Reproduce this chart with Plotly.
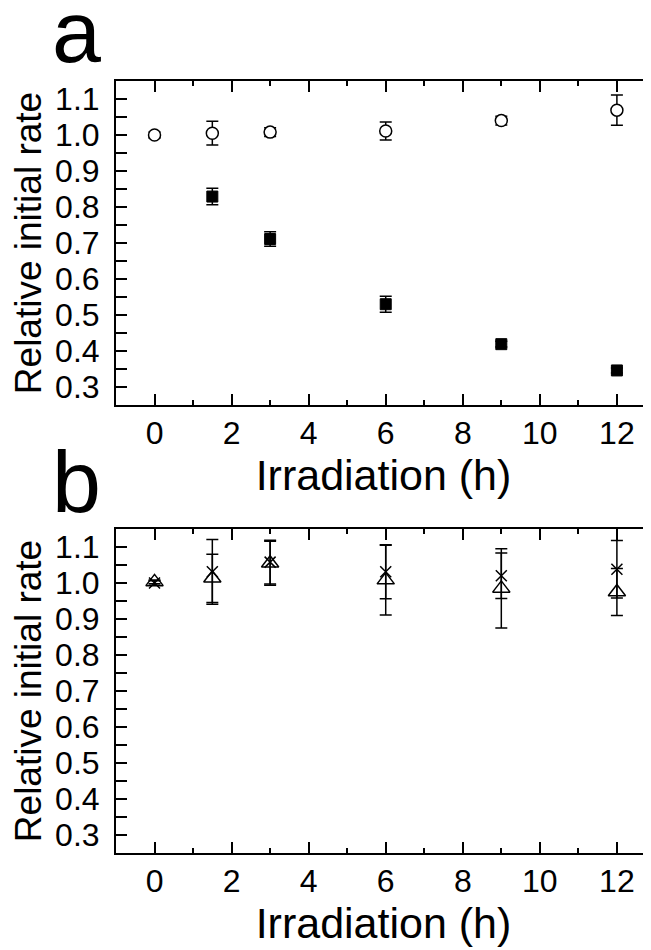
import plotly.graph_objects as go

# ---------------- data ----------------
hours = [0, 1.5, 3, 6, 9, 12]

# panel a
a_open = [1.000, 1.005, 1.008, 1.011, 1.040, 1.069]
a_open_err = [0.008, 0.033, 0.012, 0.025, 0.012, 0.042]
a_filled = [None, 0.829, 0.711, 0.530, 0.419, 0.346]
a_filled_err = [None, 0.023, 0.020, 0.022, 0.008, 0.007]

# panel b
b_cross = [1.000, 1.031, 1.058, 1.031, 1.020, 1.038]
b_cross_err = [0.006, 0.090, 0.061, 0.075, 0.063, 0.080]
b_tri = [1.003, 1.013, 1.055, 1.008, 0.985, 0.975]
b_tri_err = [0.005, 0.067, 0.061, 0.097, 0.110, 0.065]

x_ticks = [0, 2, 4, 6, 8, 10, 12]
y_tickvals = [0.30, 0.35, 0.40, 0.45, 0.50, 0.55, 0.60, 0.65, 0.70, 0.75,
              0.80, 0.85, 0.90, 0.95, 1.00, 1.05, 1.10]
y_ticktext = ["0.3", "", "0.4", "", "0.5", "", "0.6", "", "0.7", "",
              "0.8", "", "0.9", "", "1.0", "", "1.1"]

x_title = "Irradiation (h)"
y_title = "Relative initial rate"
panel_labels = ["a", "b"]

# ---------------- figure ----------------
FONT = "Liberation Sans, Arial, sans-serif"
BLACK = "#000000"

def err(arr):
    return dict(type="data", array=arr, visible=True, color=BLACK,
                thickness=1.5, width=6)

fig = go.Figure()

fig.add_trace(go.Scatter(
    x=hours, y=a_filled, mode="markers", xaxis="x", yaxis="y",
    error_y=err(a_filled_err),
    marker=dict(symbol="square", size=11, color=BLACK,
                line=dict(color=BLACK, width=1)),
    showlegend=False))
fig.add_trace(go.Scatter(
    x=hours, y=a_open, mode="markers", xaxis="x", yaxis="y",
    error_y=err(a_open_err),
    marker=dict(symbol="circle", size=12, color="white",
                line=dict(color=BLACK, width=1.5)),
    showlegend=False))

fig.add_trace(go.Scatter(
    x=hours, y=b_tri, mode="markers", xaxis="x2", yaxis="y2",
    error_y=err(b_tri_err),
    marker=dict(symbol="triangle-up-open", size=15, color=BLACK,
                line=dict(color=BLACK, width=1.5)),
    showlegend=False))
fig.add_trace(go.Scatter(
    x=hours, y=b_cross, mode="markers", xaxis="x2", yaxis="y2",
    error_y=err(b_cross_err),
    marker=dict(symbol="x-thin-open", size=11, color=BLACK,
                line=dict(color=BLACK, width=1.5)),
    showlegend=False))

XR = [-1, 12.885]
YR = [0.25, 1.15]

def xaxis(anchor):
    return dict(
        anchor=anchor, domain=[0, 1], range=XR,
        tickmode="array", tickvals=x_ticks,
        ticks="inside", ticklen=11, tickwidth=2, tickcolor=BLACK,
        minor=dict(dtick=1, tick0=0, ticks="inside", ticklen=5,
                   tickwidth=2, tickcolor=BLACK, showgrid=False),
        showline=True, linewidth=2, linecolor=BLACK, mirror="ticks",
        showgrid=False, zeroline=False,
        tickfont=dict(family=FONT, size=32, color=BLACK),
        ticklabelstandoff=-1,
        title=dict(text=x_title, font=dict(family=FONT, size=43, color=BLACK),
                   standoff=0),
    )

def yaxis_left(anchor, domain):
    return dict(
        anchor=anchor, domain=domain, range=YR,
        tickmode="array", tickvals=y_tickvals, ticktext=y_ticktext,
        ticks="inside", ticklen=11, tickwidth=2, tickcolor=BLACK,
        showline=True, linewidth=2, linecolor=BLACK, mirror=False,
        showgrid=False, zeroline=False,
        tickfont=dict(family=FONT, size=32, color=BLACK),
        ticklabelstandoff=8,
        title=dict(text=y_title, font=dict(family=FONT, size=37, color=BLACK),
                   standoff=5),
    )

def yaxis_right(overlay, anchor):
    return dict(
        overlaying=overlay, anchor=anchor, side="right", range=YR,
        tickmode="linear", tick0=0.3, dtick=0.1,
        ticks="inside", ticklen=7, tickwidth=2, tickcolor=BLACK,
        minor=dict(dtick=0.05, tick0=0.3, ticks="inside", ticklen=2,
                   tickwidth=2, tickcolor=BLACK, showgrid=False),
        showticklabels=False, showline=False, showgrid=False, zeroline=False,
    )

H_A = [0.5803, 1.0]
H_B = [0.0, 0.4197]

# the page body adds an 8 px margin, so the figure is 8 px smaller than the window
fig.update_layout(
    width=643, height=942,
    margin=dict(l=108, r=0, t=73, b=97, autoexpand=False),
    paper_bgcolor="white", plot_bgcolor="white",
    font=dict(family=FONT, color=BLACK),
    showlegend=False,
    xaxis=xaxis("y"),
    yaxis=yaxis_left("x", H_A),
    xaxis2=xaxis("y2"),
    yaxis2=yaxis_left("x2", H_B),
    yaxis3=yaxis_right("y", "x"),
    yaxis4=yaxis_right("y2", "x2"),
)

# invisible helper traces so the right-hand tick axes are drawn
fig.add_trace(go.Scatter(x=[None], y=[None], xaxis="x", yaxis="y3",
                         mode="markers", showlegend=False, hoverinfo="skip"))
fig.add_trace(go.Scatter(x=[None], y=[None], xaxis="x2", yaxis="y4",
                         mode="markers", showlegend=False, hoverinfo="skip"))

for label, ypos in zip(panel_labels, [1.0635, 0.4806]):
    fig.add_annotation(
        text=label, xref="paper", yref="paper", x=-0.1234, y=ypos,
        xanchor="left", yanchor="middle", showarrow=False,
        font=dict(family=FONT, size=88, color=BLACK))

fig.write_html("out.html")
